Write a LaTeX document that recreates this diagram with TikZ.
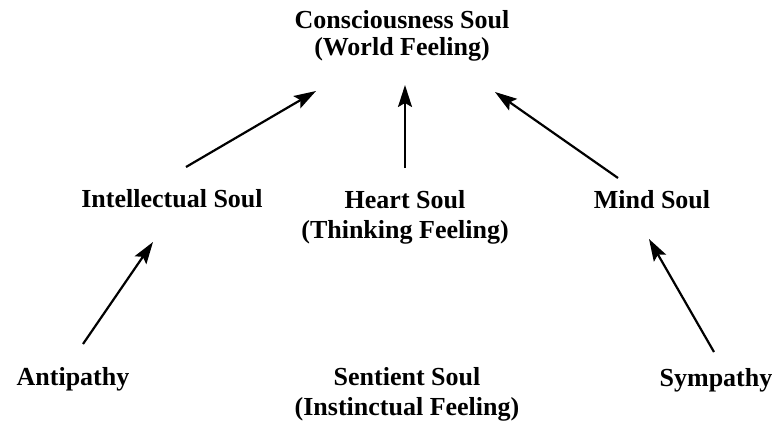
\documentclass[tikz,border=0pt]{standalone}
\usepackage{fontspec}
\setmainfont{Liberation Serif}
\usetikzlibrary{arrows.meta,calc}
\tikzset{
  lbl/.style={font=\fontsize{26}{27}\selectfont\bfseries, inner sep=0pt, align=center},
  arr/.style={line width=2.2pt, -{Stealth[length=22pt,width=14pt,inset=4pt]}}
}
\begin{document}
\begin{tikzpicture}[x=1pt,y=-1pt]
\useasboundingbox[fill=white] (0,0) rectangle (775,423);
\node[lbl] (cs) at (402,36) {Consciousness Soul\\[0pt](World Feeling)};
\node[lbl,anchor=base] (is) at (172,207) {Intellectual Soul};
\node[lbl] (hs) at (405,217) {Heart Soul\\[3pt](Thinking Feeling)};
\node[lbl,anchor=base] (ms) at (652,208) {Mind Soul};
\node[lbl,anchor=base] (an) at (73,385) {Antipathy};
\node[lbl] (ss) at (407,394) {Sentient Soul\\[3pt](Instinctual Feeling)};
\node[lbl,anchor=base] (sy) at (716,386) {Sympathy};
\draw[arr] ($(is.base)+(14,-40)$) -- ($(cs)+(-86,55)$);
\draw[arr] ($(hs)+(0,-49)$) -- ($(cs)+(3,49)$);
\draw[arr] ($(ms.base)+(-34,-30)$) -- ($(cs)+(93,56)$);
\draw[arr] ($(an.base)+(10,-41)$) -- ($(is.base)+(-19,35)$);
\draw[arr] ($(sy.base)+(-2,-34)$) -- ($(ms.base)+(-3,31)$);
\end{tikzpicture}
\end{document}
